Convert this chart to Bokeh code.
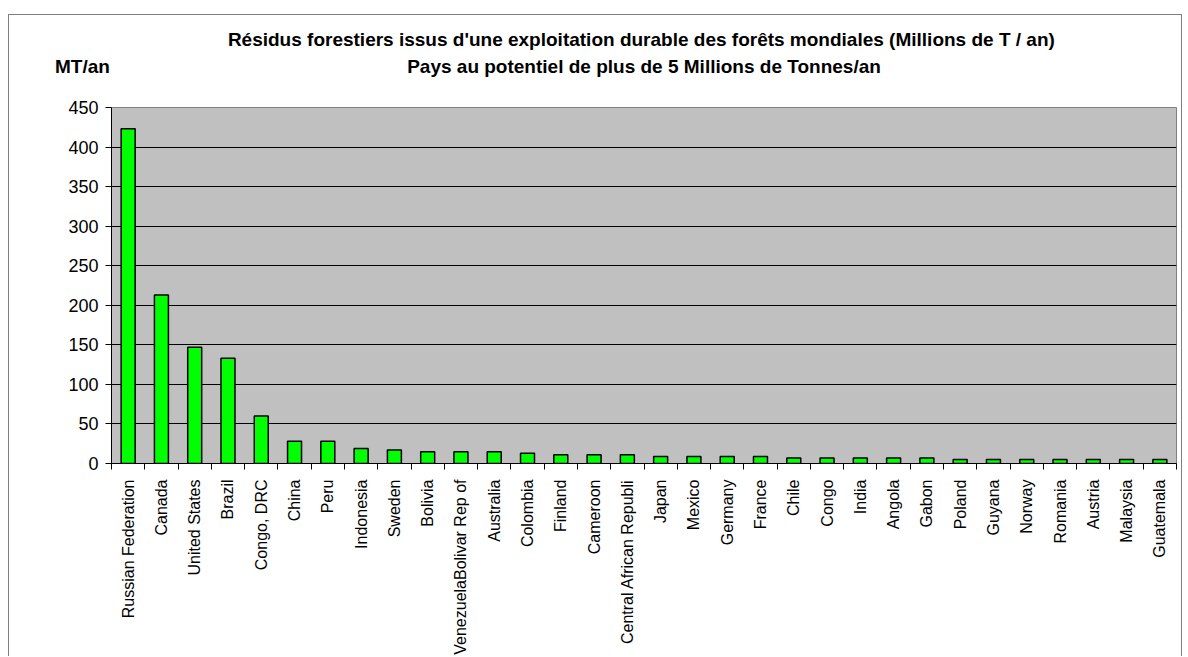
import numpy as np
from bokeh.plotting import figure
from bokeh.models import Range1d, FixedTicker, Title, LinearAxis, ColumnDataSource
from bokeh.embed import file_html
from bokeh.resources import INLINE

countries = ["Russian Federation", "Canada", "United States", "Brazil", "Congo, DRC",
             "China", "Peru", "Indonesia", "Sweden", "Bolivia", "VenezuelaBolivar Rep of",
             "Australia", "Colombia", "Finland", "Cameroon", "Central African Republi",
             "Japan", "Mexico", "Germany", "France", "Chile", "Congo", "India", "Angola",
             "Gabon", "Poland", "Guyana", "Norway", "Romania", "Austria", "Malaysia", "Guatemala"]
values = [423, 213, 147, 133, 60, 28, 28, 19, 17, 15, 15, 15, 13, 11, 11, 11,
          9, 9, 9, 9, 7, 7, 7, 7, 7, 5, 5, 5, 5, 5, 5, 5]
y_ticks = [0, 50, 100, 150, 200, 250, 300, 350, 400, 450]

title_1 = "Résidus forestiers issus d'une exploitation  durable des forêts mondiales (Millions de T / an)"
title_2 = "Pays au potentiel de plus de 5 Millions de Tonnes/an"
unit_label = "MT/an"

n = len(countries)
centers = [i + 0.5 for i in range(n)]
bounds = list(range(n + 1))

src = ColumnDataSource(dict(x=centers, top=values))

W, H = 1174, 642
p = figure(width=W, height=H, output_backend="svg", toolbar_location=None,
           x_range=Range1d(0, n), y_range=Range1d(0, 450),
           min_border_left=102, min_border_right=7, min_border_top=92, min_border_bottom=193)
p.styles = {"margin-left": "8px", "margin-top": "14px",
            "border-left": "1px solid #7f7f7f", "border-top": "1px solid #7f7f7f",
            "border-right": "1px solid #7f7f7f"}

p.background_fill_color = "#c0c0c0"
p.border_fill_color = "white"
p.outline_line_color = "#808080"
p.outline_line_width = 1

p.vbar(x="x", top="top", width=0.42, source=src, fill_color="#00ff00",
       line_color="black", line_width=1.5)

# y axis
p.yaxis.ticker = FixedTicker(ticks=y_ticks)
p.yaxis.axis_line_color = "black"
p.yaxis.major_tick_in = 0
p.yaxis.major_tick_out = 6
p.yaxis.minor_tick_line_color = None
p.yaxis.major_label_text_font = "Liberation Sans"
p.yaxis.major_label_text_font_size = "18px"
p.yaxis.major_label_text_color = "black"
p.yaxis.major_label_standoff = 7
p.ygrid.grid_line_color = "black"
p.ygrid.grid_line_width = 1

# x axis
p.xaxis.ticker = FixedTicker(ticks=centers, minor_ticks=bounds)
p.xaxis.major_label_overrides = {c: name for c, name in zip(centers, countries)}
p.xaxis.major_label_orientation = np.pi / 2
p.xaxis.major_tick_in = 0
p.xaxis.major_tick_out = 0
p.xaxis.minor_tick_in = 0
p.xaxis.minor_tick_out = 6
p.xaxis.minor_tick_line_color = "black"
p.xaxis.axis_line_color = "black"
p.xaxis.major_label_text_font = "Liberation Sans"
p.xaxis.major_label_text_font_size = "16px"
p.xaxis.major_label_text_color = "black"
p.xaxis.major_label_standoff = 10
p.xgrid.grid_line_color = None

# header row: unit label (left) and second title line, drawn as labels of a bare top axis
nbsp = "\u00a0"
header = LinearAxis(ticker=FixedTicker(ticks=[0.0, n / 2]),
                    major_label_overrides={0.0: unit_label + nbsp * 11, n / 2: title_2},
                    axis_line_color=None, major_tick_line_color=None,
                    minor_tick_line_color=None, major_tick_in=0, major_tick_out=0,
                    minor_tick_in=0, minor_tick_out=0, major_label_standoff=31,
                    major_label_text_font="Liberation Sans", major_label_text_font_style="bold",
                    major_label_text_font_size="19px", major_label_text_color="black")
p.add_layout(header, "above")

t1 = Title(text=title_1, align="center", text_font="Liberation Sans",
           text_font_style="bold", text_font_size="19px", text_color="black", standoff=6)
p.add_layout(t1, "above")

open("out.html", "w").write(file_html(p, INLINE))
